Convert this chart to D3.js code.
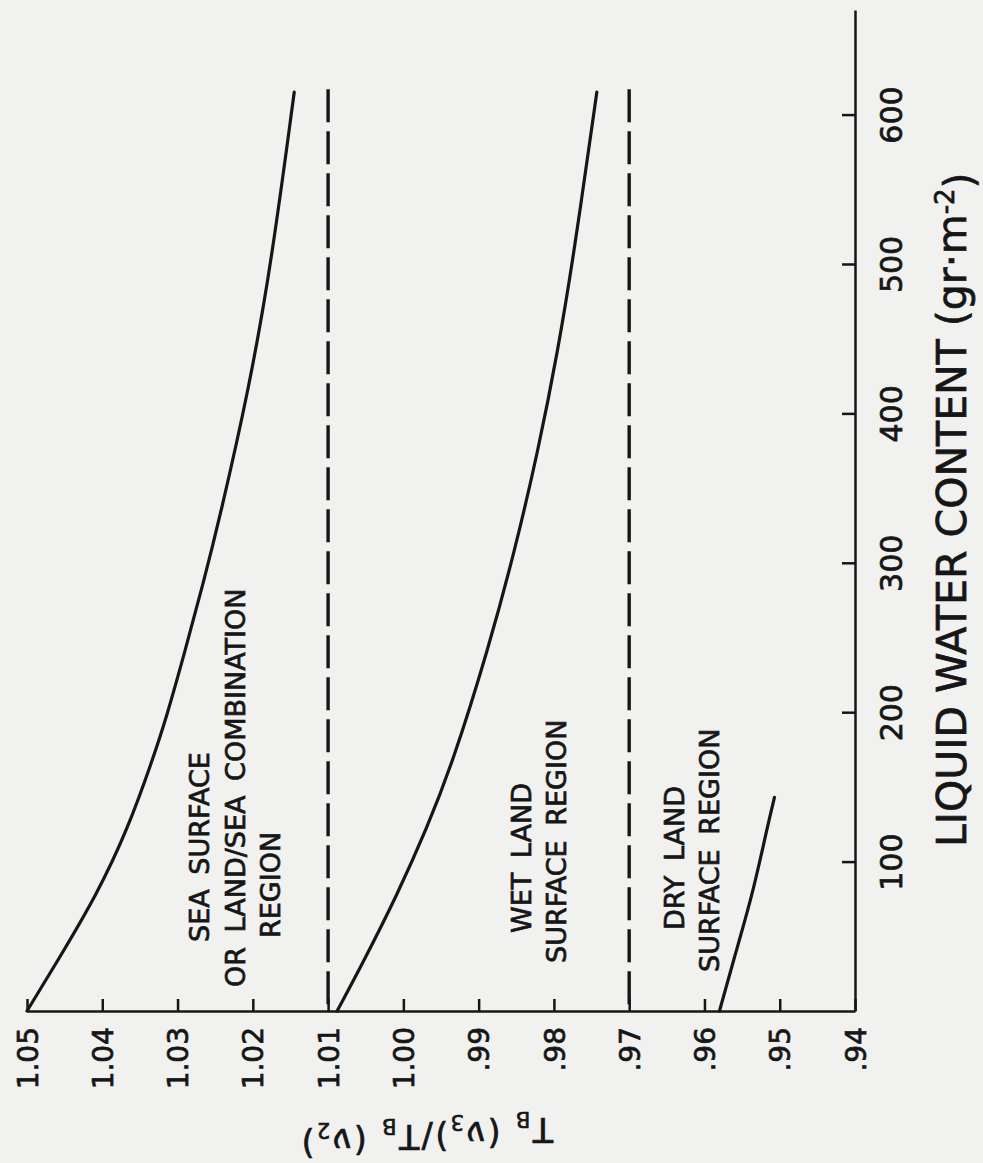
<!DOCTYPE html>
<html>
<head>
<meta charset="utf-8">
<script src="https://cdnjs.cloudflare.com/ajax/libs/d3/7.8.5/d3.min.js"></script>
<style>
  body { margin: 0; background: #f1f1ef; }
  svg { display: block; }
  text { font-family: "DejaVu Sans", sans-serif; fill: #161616; stroke: #161616; stroke-width: 0.7px; }
</style>
</head>
<body>
<script>
// Brightness-temperature ratio vs liquid water content (page is turned on its side)

// tick values / labels
var ratioTicks = [1.05, 1.04, 1.03, 1.02, 1.01, 1.00, 0.99, 0.98, 0.97, 0.96, 0.95, 0.94];
var ratioTickLabels = ["1.05", "1.04", "1.03", "1.02", "1.01", "1.00", ".99", ".98", ".97", ".96", ".95", ".94"];
var waterTicks = [100, 200, 300, 400, 500, 600];

// sea surface curve (water content, ratio)
var seaWater = [0, 33, 78, 122, 167, 196, 241, 286, 330, 419, 502, 615];
var seaRatio = [1.0500, 1.0460, 1.0407, 1.0366, 1.0334, 1.0315, 1.0290, 1.0266, 1.0244, 1.0204, 1.0175, 1.0145];

// wet land curve
var wetWater = [0, 33, 78, 122, 167, 241, 308, 375, 441, 508, 615];
var wetRatio = [1.0088, 1.0053, 1.0008, 0.9969, 0.9934, 0.9888, 0.9852, 0.9821, 0.9795, 0.9773, 0.9743];

// dry land curve
var dryWater = [0, 33, 78, 122, 143];
var dryRatio = [0.9580, 0.9562, 0.9536, 0.9517, 0.9507];

// dashed region boundaries
var boundaryRatios = [1.01, 0.97];
var boundaryWater = [617, 0];

var svgWidth = 983;
var svgHeight = 1163;
var ink = "#161616";

var svg = d3.select("body")
  .append("svg")
  .attr("width", svgWidth)
  .attr("height", svgHeight);

// ratio runs left -> right, water content runs bottom -> top
var x = d3.scaleLinear()
  .domain([1.05, 0.94])
  .range([27, 855]);

var y = d3.scaleLinear()
  .domain([0, 670])
  .range([1011, 10]);

// ratio axis (bottom)
var bottomAxis = d3.axisBottom(x)
  .tickValues(ratioTicks)
  .tickSizeInner(-12)
  .tickSizeOuter(0)
  .tickFormat(function(d, i) { return ratioTickLabels[i]; });

var xAxis = svg.append("g")
  .attr("transform", `translate(0, ${y(0)})`)
  .call(bottomAxis);

xAxis.selectAll("text")
  .attr("transform", "rotate(-90)")
  .attr("x", -16)
  .attr("y", 0)
  .attr("dy", "0.36em")
  .attr("text-anchor", "end")
  .attr("fill", ink)
  .style("font-size", "28px");

// water content axis (right)
var rightAxis = d3.axisRight(y)
  .tickValues(waterTicks)
  .tickSizeInner(-13)
  .tickSizeOuter(0)
  .tickFormat(d3.format("d"));

var yAxis = svg.append("g")
  .attr("transform", `translate(${x(0.94)}, 0)`)
  .call(rightAxis);

yAxis.selectAll("text")
  .attr("transform", "rotate(-90)")
  .attr("x", 0)
  .attr("y", 36)
  .attr("dy", "0.36em")
  .attr("text-anchor", "middle")
  .attr("fill", ink)
  .style("font-size", "30px");

svg.selectAll(".domain, .tick line")
  .attr("stroke", ink)
  .attr("stroke-width", 2.5);

// curves
var line = d3.line()
  .x(d => x(d[1]))
  .y(d => y(d[0]))
  .curve(d3.curveBasis);

[[seaWater, seaRatio], [wetWater, wetRatio], [dryWater, dryRatio]].forEach(function(s) {
  svg.append("path")
    .datum(d3.zip(s[0], s[1]))
    .attr("fill", "none")
    .attr("stroke", ink)
    .attr("stroke-width", 3.2)
    .attr("stroke-linecap", "round")
    .attr("d", line);
});

// dashed boundaries
boundaryRatios.forEach(function(r) {
  svg.append("path")
    .datum(boundaryWater.map(w => [w, r]))
    .attr("fill", "none")
    .attr("stroke", ink)
    .attr("stroke-width", 3.4)
    .attr("stroke-dasharray", "33,9")
    .attr("d", line);
});

// region labels, each line rotated to read bottom -> top
function rotLabel(txt, cx, startY, size) {
  svg.append("text")
    .attr("transform", `translate(${cx}, ${startY}) rotate(-90)`)
    .attr("dy", "0.36em")
    .attr("text-anchor", "start")
    .style("font-size", size + "px")
    .style("word-spacing", "6px")
    .text(txt);
}

rotLabel("SEA SURFACE", 199, 942, 27);
rotLabel("OR LAND/SEA COMBINATION", 235, 987, 27);
rotLabel("REGION", 270, 938, 27);

rotLabel("WET LAND", 521, 933, 27);
rotLabel("SURFACE REGION", 556, 963, 27);

rotLabel("DRY LAND", 674, 930, 27);
rotLabel("SURFACE REGION", 709, 972, 27);

// x title (water content), reading bottom -> top along the right edge
var xTitle = svg.append("text")
  .attr("transform", "translate(966, 847) rotate(-90)")
  .attr("text-anchor", "start")
  .style("font-size", "41px");
xTitle.append("tspan").text("LIQUID WATER CONTENT (gr·m");
xTitle.append("tspan").attr("dy", "-0.45em").style("font-size", "26px").text("-2");
xTitle.append("tspan").attr("dy", "0.45em").text(")");

// y title, upside down
var yTitle = svg.append("text")
  .attr("transform", "translate(553, 1118) rotate(180)")
  .attr("text-anchor", "start")
  .style("font-size", "33px")
  .style("letter-spacing", "2.5px");
yTitle.append("tspan").text("T");
yTitle.append("tspan").attr("dy", "0.3em").style("font-size", "21px").text("B");
yTitle.append("tspan").attr("dy", "-0.3em").text(" (ν");
yTitle.append("tspan").attr("dy", "0.3em").style("font-size", "21px").text("3");
yTitle.append("tspan").attr("dy", "-0.3em").text(")/T");
yTitle.append("tspan").attr("dy", "0.3em").style("font-size", "21px").text("B");
yTitle.append("tspan").attr("dy", "-0.3em").text(" (ν");
yTitle.append("tspan").attr("dy", "0.3em").style("font-size", "21px").text("2");
yTitle.append("tspan").attr("dy", "-0.3em").text(")");
</script>
</body>
</html>
